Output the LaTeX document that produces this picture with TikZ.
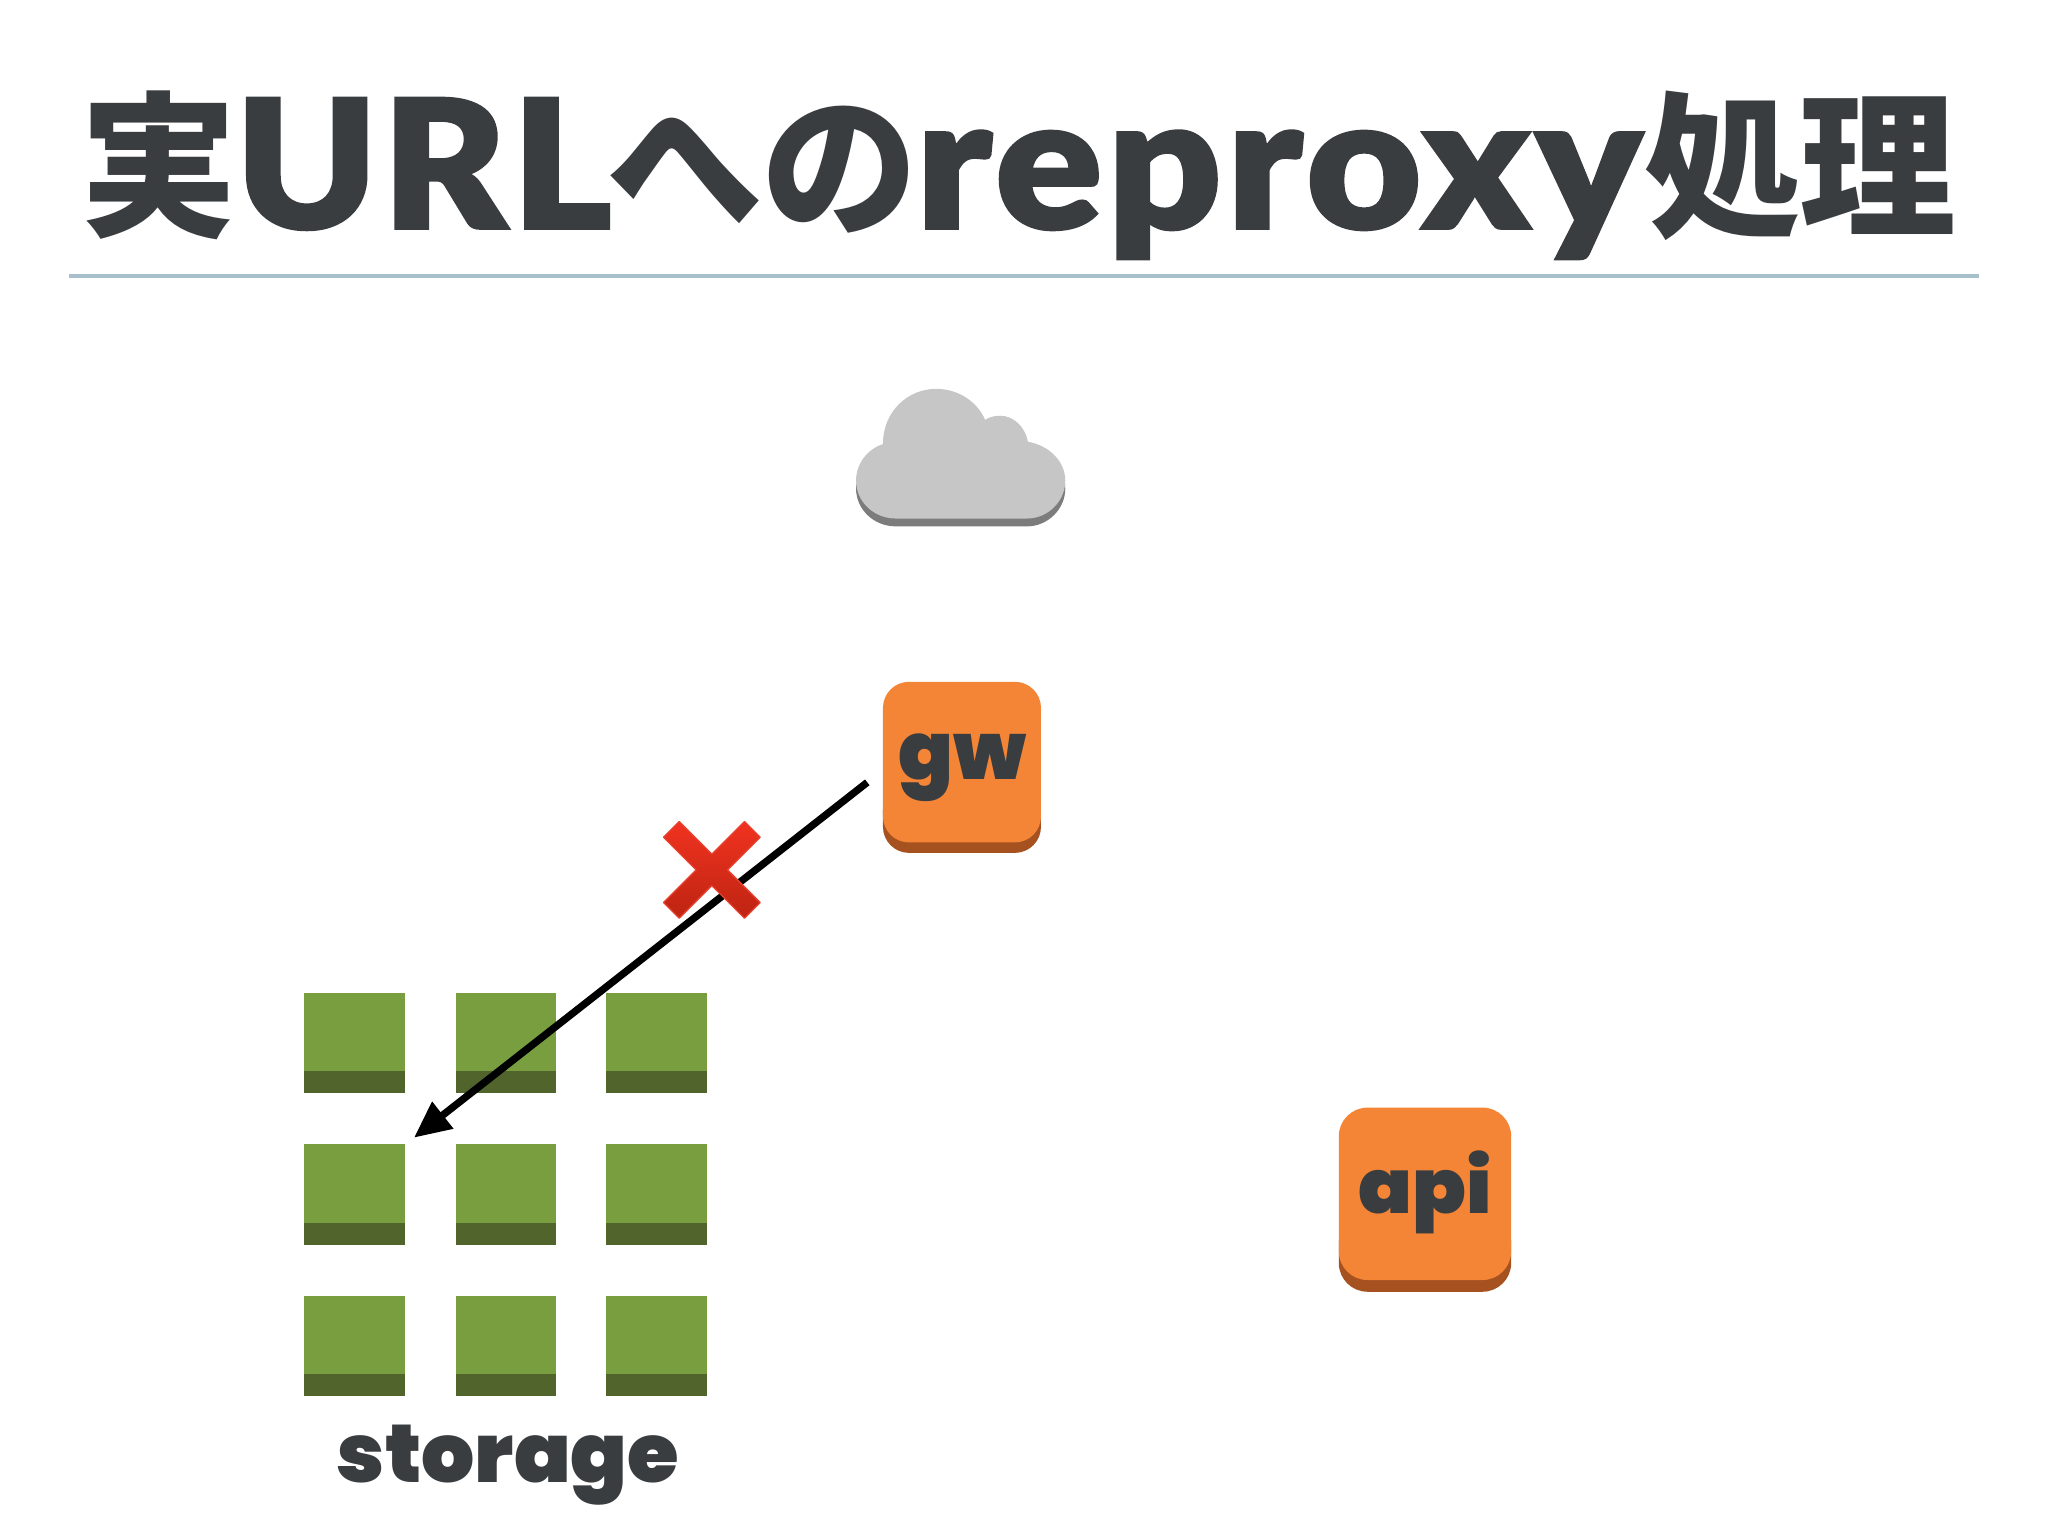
\documentclass[tikz,border=0pt]{standalone}
\usepackage{fontspec}
\usepackage{graphicx}
\usetikzlibrary{arrows.meta}
\setmainfont{Poppins}[UprightFont=* Black]
\newfontfamily\cjk{Noto Sans CJK JP}[UprightFont=* Black]
\newfontfamily\ttllat{Lato}[UprightFont=* Black,FakeBold=1.4,LetterSpace=2.5]
\definecolor{inkc}{HTML}{3A3D40}
\definecolor{orangec}{HTML}{F58536}
\definecolor{orangedk}{HTML}{A65120}
\definecolor{greenc}{HTML}{799E40}
\definecolor{greendk}{HTML}{50642B}
\definecolor{rulec}{HTML}{A8C0CC}
\definecolor{cloudc}{HTML}{C6C6C6}
\definecolor{clouddk}{HTML}{7C7C7C}
\definecolor{redtop}{HTML}{F03320}
\definecolor{redbot}{HTML}{BE2412}
\definecolor{redrim}{HTML}{E8402E}
\tikzset{
  lbl/.style={inner sep=0pt,text=inkc,anchor=base},
  tile/.style={inner sep=0pt,outer sep=0pt,minimum size=38.5pt,fill=greenc,anchor=north west},
}
\newcommand{\putc}[2]{\rlap{\hspace{#1pt}\makebox[0pt][c]{#2}}}
\newcommand{\putl}[2]{\rlap{\hspace{#1pt}#2}}
\begin{document}
\begin{tikzpicture}[x=0.5pt,y=-0.5pt]
\useasboundingbox (0,0) rectangle (1568,1176);
% title
\node[lbl,anchor=base west] (title) at (0,175) {\fontsize{60pt}{60pt}\selectfont
  \putc{60.75}{\raisebox{1.5pt}{\cjk 実}}%
  \putl{90}{\resizebox{144pt}{50pt}{\ttllat URL}}%
  \putc{262}{\raisebox{1.5pt}{\cjk へ}}%
  \putc{321.25}{\raisebox{1.5pt}{\cjk の}}%
  \putl{350.5}{\resizebox{278pt}{37.5pt}{\ttllat reproxy}}%
  \putc{659.5}{\raisebox{1.5pt}{\cjk 処}}%
  \putc{718.75}{\raisebox{1.5pt}{\cjk 理}}%
  \hspace*{784pt}};
\fill[rulec] (53,209.5) rectangle (1515,213);
% cloud
\def\cloudpath{(655.4,368) .. controls (655.4,355) and (664,344) .. (676,340)
  .. controls (676,315) and (695,297.7) .. (716.8,297.7)
  .. controls (733,297.7) and (748,307) .. (754.2,321.4)
  .. controls (758,319) and (762,318.3) .. (765.8,318.3)
  .. controls (776,318.3) and (785,327) .. (787,338.2)
  .. controls (803,341) and (815.6,353) .. (815.6,368)
  .. controls (815.6,384) and (802,397) .. (786.4,397)
  -- (685.8,397) .. controls (669,397) and (655.4,384) .. cycle}
\begin{scope}[yshift=-3pt]\fill[clouddk] \cloudpath;\end{scope}
\fill[cloudc] \cloudpath;
% gw
\fill[orangedk,rounded corners=10pt] (676,600) rectangle (797,653);
\fill[orangec,rounded corners=10pt] (676,522) rectangle (797,645);
\node[lbl] (gw) at (737,597) {\resizebox{49pt}{17.5pt}{gw}};
% api
\fill[orangedk,rounded corners=11pt] (1025,930) rectangle (1157,989);
\fill[orangec,rounded corners=11pt] (1025,848) rectangle (1157,980);
\node[lbl] (api) at (1091,929) {\resizebox{51pt}{24pt}{api}};
% storage tiles
\foreach \x/\i in {233/a,349/b,464/c}{
  \foreach \y/\j in {760/1,876/2,992/3}{
    \node[tile] (t\i\j) at (\x,\y) {};
    \fill[greendk] (\x,\y+60) rectangle (\x+77,\y+77);
  }
}
\node[lbl] (storage) at (389,1135) {\resizebox{131pt}{22pt}{storage}};
% arrow
\coordinate (from) at (664,599);
\coordinate (to) at (317,871);
\draw[line width=2.8pt,-{Triangle[length=14pt,width=12.5pt]}] (from) -- (to);
% red cross
\shade[top color=redtop,bottom color=redbot] (520,629) -- (545,654) -- (570,629) -- (582,641) -- (557,666) -- (582,691) -- (570,703) -- (545,678) -- (520,703) -- (508,691) -- (533,666) -- (508,641) -- cycle;
\draw[redrim,line width=0.5pt,line join=round] (520,629) -- (545,654) -- (570,629) -- (582,641) -- (557,666) -- (582,691) -- (570,703) -- (545,678) -- (520,703) -- (508,691) -- (533,666) -- (508,641) -- cycle;
\end{tikzpicture}
\end{document}
